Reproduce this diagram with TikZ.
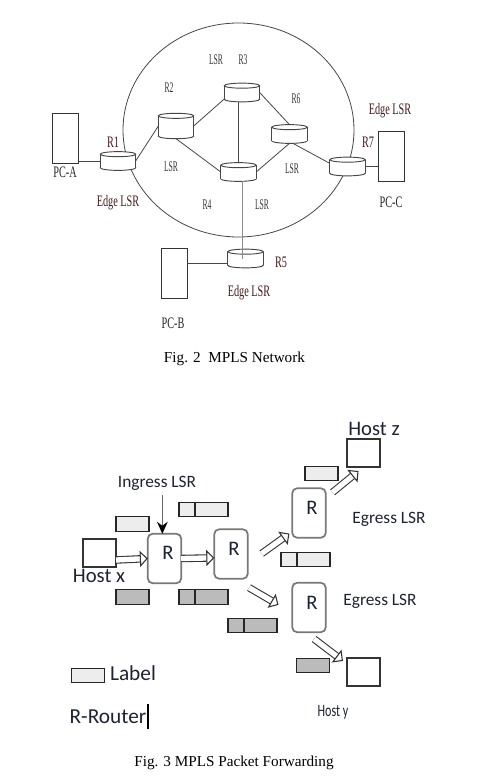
\documentclass[tikz,border=0pt]{standalone}
\usepackage{fontspec}
\setmainfont{Liberation Serif}
\setsansfont{Carlito}
\newfontfamily\narrowwide[FakeStretch=0.64]{Liberation Serif}
\newfontfamily\narrowtight[FakeStretch=0.52]{Liberation Serif}
\newfontfamily\narrowsans[FakeStretch=0.7]{Carlito}
\usetikzlibrary{arrows.meta, calc, shapes.geometric}
\definecolor{linegray}{RGB}{70, 70, 70}
\definecolor{softlight}{RGB}{237, 237, 237}
\definecolor{softdark}{RGB}{187, 187, 187}
\definecolor{routeredge}{RGB}{120, 120, 120}
\definecolor{edgered}{RGB}{70, 25, 25}
\definecolor{textnavy}{RGB}{30, 35, 50}
\tikzset{
  router/.style={rectangle, inner sep=0pt, outer sep=0pt, minimum width=26.5pt},
  routerline/.style={draw=linegray, line width=0.7pt, fill=white},
  pcbox/.style={rectangle, draw=black!80, fill=white, inner sep=0pt, outer sep=0pt,
    minimum width=19.5pt, minimum height=37.5pt},
  hostbox/.style={rectangle, draw=black!80, line width=0.8pt, fill=white, inner sep=0pt,
    outer sep=0pt, minimum width=24.75pt, minimum height=21pt},
  lsrbox/.style={rectangle, rounded corners=3.5pt, draw=routeredge, line width=1.3pt, fill=white,
    inner sep=0pt, outer sep=0pt, minimum width=25pt, minimum height=37pt},
  lightlab/.style={rectangle, draw=black!85, line width=0.8pt, fill=softlight, inner sep=0pt,
    outer sep=0pt, minimum width=24.75pt, minimum height=11pt},
  darklab/.style={lightlab, fill=softdark},
  shortlight/.style={lightlab, minimum width=12pt},
  shortdark/.style={darklab, minimum width=12pt},
  wirelab/.style={font=\narrowtight\fontsize{11}{13}\selectfont, text=black!80},
  edgelab/.style={font=\narrowwide\fontsize{12}{14}\selectfont, text=edgered},
  sanslab/.style={font=\sffamily\fontsize{13}{15}\selectfont, text=textnavy},
  biglab/.style={font=\sffamily\fontsize{15.5}{18}\selectfont, text=textnavy},
  caption/.style={font=\fontsize{11.4}{13}\selectfont},
  link/.style={draw=linegray, line width=0.6pt},
  blockarrow/.style={draw=black!80, double=white, double distance=4pt, line width=0.8pt,
    -{Triangle[fill=white, length=6pt, width=12pt]}}
}
\begin{document}
\begin{tikzpicture}[x=0.75pt, y=-0.75pt]
  \useasboundingbox (0,0) rectangle (484,781);

  %% MPLS NETWORK
  \node[ellipse, draw=linegray, line width=0.6pt, inner sep=0pt, minimum width=173.25pt, minimum height=160.5pt] (core) at (238.5,130) {};

  %% routers: name/x/y/height
  \foreach \rname/\rx/\ry/\rh in {R1/118/161/14, R2/176/126/19, R3/242/92.5/14, R4/238.5/172/14,
      R5/245.5/258.5/14, R6/289.5/134/14, R7/347.5/166.5/14}{
    \node[router, minimum height=\rh pt] (\rname) at (\rx,\ry) {};
    \draw[routerline] ($(\rname.south)+(0,-2.5)$) ellipse [x radius=13.25pt, y radius=1.9pt];
    \fill[white] ($(\rname.north west)+(0,2.5)$) rectangle ($(\rname.south east)+(0,-2.5)$);
    \draw[routerline] ($(\rname.north west)+(0,2.5)$) -- ($(\rname.south west)+(0,-2.5)$);
    \draw[routerline] ($(\rname.north east)+(0,2.5)$) -- ($(\rname.south east)+(0,-2.5)$);
    \draw[routerline] ($(\rname.north)+(0,2.5)$) ellipse [x radius=13.25pt, y radius=1.9pt];
  }

  \node[pcbox] (PCA) at (65.5,138) {};
  \node[pcbox] (PCB) at (174,273.5) {};
  \node[pcbox] (PCC) at (391,156) {};

  \draw[link] (R1.west) -- (R1.west -| PCA.east);
  \draw[link] (R1.east) -- (R2.west);
  \draw[link] (R2.east) -- (R3.200);
  \draw[link] (R2.south) -- (R4.west);
  \draw[link] (R3.south -| R4.north) -- (R4.north);
  \draw[link] (R3.east) -- (R6.north);
  \draw[link] (R4.east) -- (R6.south);
  \draw[link] (R6.-70) -- (R7.170);
  \draw[link] (R7.east) -- (R7.east -| PCC.west);
  \draw[link, draw=black!45, line width=0.9pt] (R4.-65) -- (R4.-65 |- R5.center);
  \draw[link, line width=0.9pt] (R5.195) -- (R5.195 -| PCB.east);

  \node[edgelab] (lblRone) at (113,142) {R1};
  \node[edgelab] (lblEdgeA) at (118,203) {Edge LSR};
  \node[edgelab, text=black!85] (lblPCA) at (65,172) {PC-A};
  \node[wirelab] (lblRtwo) at (169,88) {R2};
  \node[wirelab] (lblLSRa) at (216,60) {LSR};
  \node[wirelab] (lblRthree) at (243,60) {R3};
  \node[wirelab] (lblRsix) at (296,99) {R6};
  \node[edgelab] (lblEdgeC) at (390,111) {Edge LSR};
  \node[edgelab] (lblRseven) at (368,142) {R7};
  \node[wirelab] (lblLSRb) at (171,167) {LSR};
  \node[wirelab] (lblLSRc) at (292,169) {LSR};
  \node[wirelab] (lblRfour) at (207,205) {R4};
  \node[wirelab] (lblLSRd) at (262,205) {LSR};
  \node[edgelab, text=black!85] (lblPCC) at (391,202) {PC-C};
  \node[edgelab] (lblRfive) at (281,262) {R5};
  \node[edgelab] (lblEdgeB) at (249,293) {Edge LSR};
  \node[edgelab, text=black!85] (lblPCB) at (173,323) {PC-B};
  \node[caption] (figtwo) at (234.5,359) {Fig. 2\ \ MPLS Network};

  %% PACKET FORWARDING
  \node[hostbox] (hostX) at (99.5,553) {};
  \node[hostbox] (hostZ) at (363.5,453) {};
  \node[hostbox] (hostY) at (363.5,672) {};

  \node[lsrbox] (Ra) at (164.5,558.5) {};
  \node[lsrbox] (Rb) at (231,554) {};
  \node[lsrbox] (Rc) at (309,513) {};
  \node[lsrbox] (Rd) at (309,607.5) {};
  \node[biglab] (lblRa) at (168,553) {R};
  \node[biglab] (lblRb) at (234,549) {R};
  \node[biglab] (lblRc) at (312,508) {R};
  \node[biglab] (lblRd) at (312,603) {R};

  \node[sanslab] (ingress) at (157,483) {Ingress LSR};
  \draw[draw=black!60, line width=0.9pt, -{Stealth[black, length=9pt, width=8pt]}] (ingress.south -| Ra.95) -- (Ra.95);

  \draw[blockarrow] (hostX.-23) -- (Ra.west);
  \draw[blockarrow] (Ra.east) -- (Rb.193);
  \draw[blockarrow, shorten <=12.9pt, shorten >=2.7pt] (Rb.-30) -- (Rc.228);
  \draw[blockarrow, shorten <=13.4pt, shorten >=12pt] (Rb.-84) -- (Rd.198);
  \draw[blockarrow, shorten <=6.7pt, shorten >=4.8pt] (Rc.42) -- (hostZ.south);
  \draw[blockarrow, shorten <=8.5pt, shorten >=3.8pt] (Rd.-99) -- (hostY.154);

  %% labels on the packets
  \node[lightlab] (pkta) at (132.5,524) {};
  \node[darklab] (pktb) at (132.5,597) {};
  \node[shortlight] (pktcs) at (187,509.5) {};
  \node[lightlab, anchor=west] (pktc) at (pktcs.east) {};
  \node[shortdark] (pktds) at (187,597) {};
  \node[darklab, anchor=west] (pktd) at (pktds.east) {};
  \node[lightlab] (pkte) at (321.5,473.5) {};
  \node[shortlight] (pktfs) at (289,559.5) {};
  \node[lightlab, anchor=west] (pktf) at (pktfs.east) {};
  \node[shortdark] (pktgs) at (236,625.5) {};
  \node[darklab, anchor=west] (pktg) at (pktgs.east) {};
  \node[darklab] (pkth) at (313,665.5) {};
  \node[lightlab] (pktkey) at (88,675.5) {};

  \node[biglab] (lblHostx) at (99,576) {Host x};
  \node[biglab] (lblHostz) at (374,429) {Host z};
  \node[sanslab] (lblEgressa) at (389,519) {Egress LSR};
  \node[sanslab] (lblEgressb) at (380,601) {Egress LSR};
  \node[sanslab, font=\narrowsans\fontsize{13}{15}\selectfont] (lblHosty) at (333,712) {Host y};
  \node[biglab, font=\sffamily\fontsize{16}{18}\selectfont] (lblLabel) at (133,673) {Label};
  \node[biglab, font=\sffamily\fontsize{16}{18}\selectfont] (lblRouter) at (108,717) {R-Router};
  \node[rectangle, fill=black, inner sep=0pt, minimum width=1.4pt, minimum height=19pt] (cursor) at (148,716.5) {};
  \node[caption] (figthree) at (234,763) {Fig. 3 MPLS Packet Forwarding};
\end{tikzpicture}
\end{document}
